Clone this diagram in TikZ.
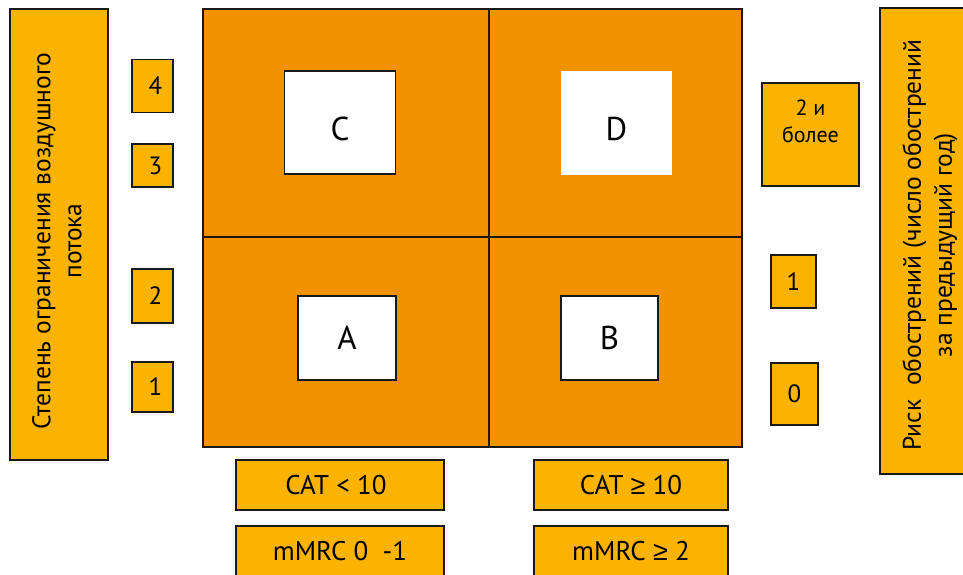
\documentclass[tikz,border=0pt]{standalone}
\usepackage{fontspec}
\setmainfont{PT Sans}
\newfontfamily\symbolfont{Liberation Sans}
\newcommand{\geqsign}{{\symbolfont ≥}}
\definecolor{gridorange}{HTML}{F39200}
\definecolor{tagyellow}{HTML}{FAB300}
\begin{document}
\begin{tikzpicture}[x=1pt,y=-1pt,
  tag/.style={draw=black!90, line width=1.4pt, fill=tagyellow, inner sep=0pt,
    align=center, text=black},
  cell/.style={draw=black!90, line width=1.4pt, fill=gridorange, inner sep=0pt},
  letterbox/.style={draw=black!90, line width=1.4pt, fill=white, inner sep=0pt,
    font=\fontsize{33}{36}\selectfont},
  lowletter/.style={text height=35pt, text depth=0pt},
  numfont/.style={font=\fontsize{25}{28}\selectfont},
  catfont/.style={font=\fontsize{27}{30}\selectfont},
  sidefont/.style={font=\fontsize{25.5}{31}\selectfont}]
\useasboundingbox (0,0) rectangle (963,574);

% risk grid: four quadrants
\node[cell, minimum width=286pt, minimum height=228pt] (qC) at (346,123) {};
\node[cell, minimum width=253pt, minimum height=228pt] (qD) at (615.5,123) {};
\node[cell, minimum width=286pt, minimum height=210pt] (qA) at (346,342) {};
\node[cell, minimum width=253pt, minimum height=210pt] (qB) at (615.5,342) {};

% group letters
\node[letterbox, lowletter, minimum width=111pt, minimum height=103pt] (C) at (340,122.5) {C};
\node[letterbox, lowletter, draw=none, minimum width=111pt, minimum height=104pt] (D) at (616.5,123) {D};
\node[letterbox, minimum width=98pt, minimum height=84pt] (A) at (347,338) {A};
\node[letterbox, minimum width=97pt, minimum height=84pt] (B) at (609.5,338) {B};

% left axis: airflow limitation
\node[tag, minimum width=98pt, minimum height=451pt] (flow) at (59,234.5) {};
\node[sidefont, rotate=90, align=center] (flowtext) at (57,241)
  {Степень ограничения воздушного\\потока};
\node[tag, numfont, minimum width=41pt, minimum height=53pt] (g4) at (152.5,86) {\hspace{6pt}4};
\node[tag, numfont, minimum width=41pt, minimum height=43pt] (g3) at (152.5,165.5) {\hspace{6pt}3};
\node[tag, numfont, minimum width=41pt, minimum height=54pt] (g2) at (152.5,296) {\hspace{6pt}2};
\node[tag, numfont, minimum width=41pt, minimum height=50pt] (g1) at (152.5,387) {\hspace{6pt}1};

% right axis: exacerbation risk
\node[tag, minimum width=86pt, minimum height=466pt] (risk) at (923,241) {};
\node[sidefont, rotate=90, align=center] (risktext) at (930,245)
  {Риск\ \ обострений (число обострений\\за предыдущий год)};
\node[tag, minimum width=97pt, minimum height=103pt] (e2) at (810.5,134.5) {};
\node[font=\fontsize{22}{27}\selectfont, align=center] (e2text) at (810.5,121) {2 и\\более};
\node[tag, numfont, minimum width=45pt, minimum height=53pt] (e1) at (793.5,281.5) {1};
\node[tag, numfont, minimum width=47pt, minimum height=62pt] (e0) at (794.5,394) {\raisebox{-2pt}{0}};

% bottom axis: symptoms
\node[tag, catfont, minimum width=208pt, minimum height=50pt] (cat1) at (340,485) {CAT < 10\hspace{8pt}};
\node[tag, catfont, minimum width=194pt, minimum height=50pt] (cat2) at (631,485) {CAT \geqsign{} 10};
\node[tag, catfont, minimum width=208pt, minimum height=54pt] (mm1) at (340,553) {\raisebox{4pt}{mMRC 0\ \ -1}};
\node[tag, catfont, minimum width=194pt, minimum height=54pt] (mm2) at (631,553) {\raisebox{4pt}{mMRC \geqsign{} 2}};
\end{tikzpicture}
\end{document}
